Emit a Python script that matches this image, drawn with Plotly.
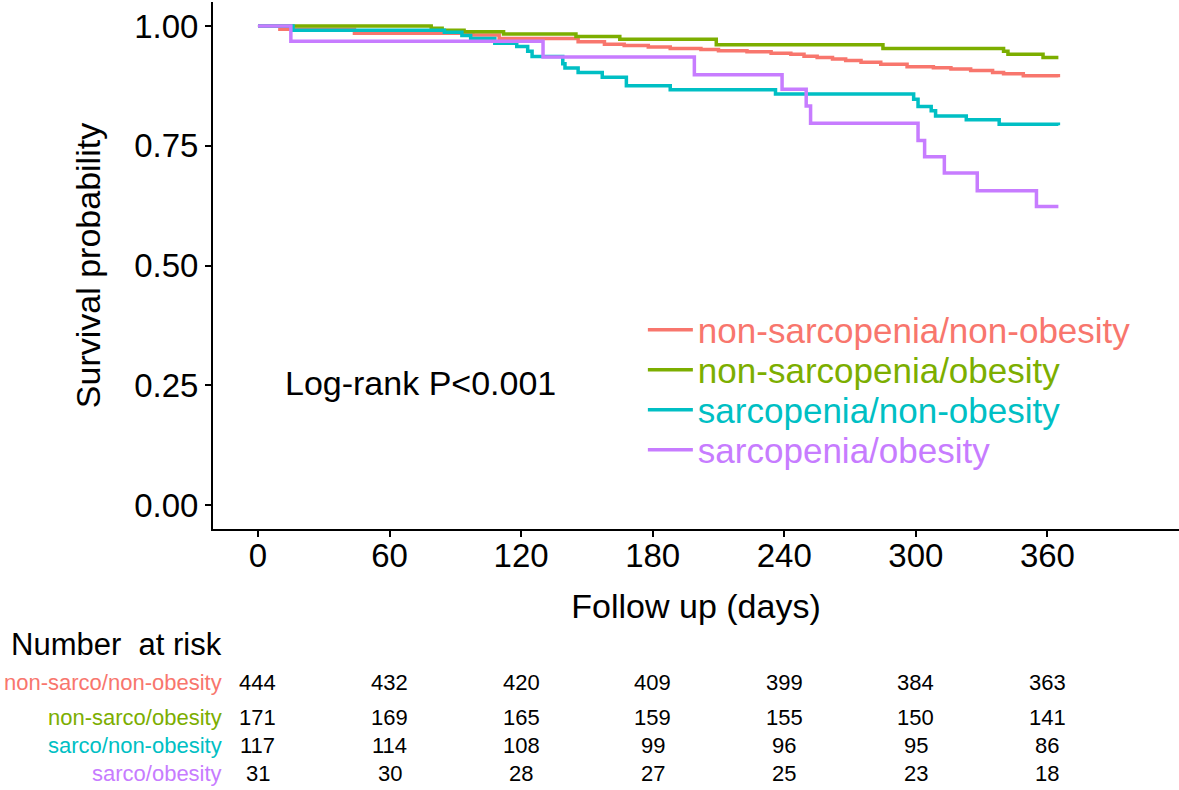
import plotly.graph_objects as go

# ---- data ----
groups = ["non-sarcopenia/non-obesity", "non-sarcopenia/obesity",
          "sarcopenia/non-obesity", "sarcopenia/obesity"]
short_names = ["non-sarco/non-obesity", "non-sarco/obesity",
               "sarco/non-obesity", "sarco/obesity"]
colors = ["#F8766D", "#7CAE00", "#00BFC4", "#C77CFF"]

t_nsno = [0, 10, 44, 98, 110, 146, 158, 167, 178, 188, 202, 210, 223, 234, 243,
          249, 255, 262, 268, 275, 284, 296, 308, 316, 325, 335, 340, 349, 365]
s_nsno = [1.0, 0.993, 0.985, 0.981, 0.974, 0.967, 0.962, 0.959, 0.956, 0.953,
          0.951, 0.948, 0.946, 0.943, 0.941, 0.937, 0.934, 0.931, 0.928, 0.924,
          0.920, 0.915, 0.913, 0.910, 0.907, 0.903, 0.900, 0.896, 0.893]

t_nso = [0, 79, 84, 94, 112, 145, 165, 209, 285, 340, 342, 358, 365]
s_nso = [1.0, 0.995, 0.991, 0.988, 0.983, 0.978, 0.972, 0.961, 0.953, 0.947,
         0.941, 0.934, 0.934]

t_sno = [0, 16, 85, 93, 97, 108, 118, 123, 125, 139, 140, 146, 157, 168, 188,
         236, 299, 301, 307, 309, 323, 338, 365]
s_sno = [1.0, 0.991, 0.987, 0.980, 0.974, 0.964, 0.957, 0.947, 0.936, 0.921,
         0.912, 0.903, 0.893, 0.875, 0.867, 0.858, 0.847, 0.832, 0.823, 0.812,
         0.804, 0.795, 0.793]

t_so = [0, 15, 130, 199, 239, 250, 252, 301, 304, 313, 328, 355, 365]
s_so = [1.0, 0.968, 0.935, 0.898, 0.868, 0.833, 0.797, 0.761, 0.727, 0.693,
        0.656, 0.623, 0.623]

times_list = [t_nsno, t_nso, t_sno, t_so]
surv_list = [s_nsno, s_nso, s_sno, s_so]

risk_times = [0, 60, 120, 180, 240, 300, 360]
risk_nsno = [444, 432, 420, 409, 399, 384, 363]
risk_nso = [171, 169, 165, 159, 155, 150, 141]
risk_sno = [117, 114, 108, 99, 96, 95, 86]
risk_so = [31, 30, 28, 27, 25, 23, 18]
risk_list = [risk_nsno, risk_nso, risk_sno, risk_so]

y_ticks = [0.0, 0.25, 0.5, 0.75, 1.0]

FONT = "Liberation Sans, Arial, sans-serif"

legend_ids = ["legend", "legend2", "legend3", "legend4"]
legend_y = [0.3776, 0.3017, 0.2258, 0.1499]

fig = go.Figure()
for name, col, t, s, lid in zip(groups, colors, times_list, surv_list, legend_ids):
    fig.add_trace(go.Scatter(
        x=t, y=s, mode="lines", line=dict(color=col, width=3.5, shape="hv"),
        name=f"<span style='color:{col}'>{name}</span>", legend=lid))

# Log-rank annotation
fig.add_annotation(x=74, y=0.255, xref="x", yref="y", text="Log-rank P<0.001",
                   showarrow=False, xanchor="center", yanchor="middle",
                   font=dict(size=34, color="black", family=FONT))

# Risk table
fig.add_annotation(x=0.0114, y=-0.2201, xref="paper", yref="paper",
                   text="Number  at risk", showarrow=False,
                   xanchor="right", yanchor="middle",
                   font=dict(size=31, color="black", family=FONT))
row_y = [-0.2922, -0.3586, -0.4099, -0.4630]
for lab, col, risk, ry in zip(short_names, colors, risk_list, row_y):
    fig.add_annotation(x=0.0114, y=ry, xref="paper", yref="paper", text=lab,
                       showarrow=False, xanchor="right", yanchor="middle",
                       font=dict(size=22, color=col, family=FONT))
    for tt, n in zip(risk_times, risk):
        fig.add_annotation(x=tt, y=ry, xref="x", yref="paper", text=str(n),
                           showarrow=False, xanchor="center", yanchor="middle",
                           font=dict(size=22, color="black", family=FONT))

layout_legends = {}
for lid, ly in zip(legend_ids, legend_y):
    layout_legends[lid] = dict(x=0.445, y=ly, xanchor="left", yanchor="middle",
                               bgcolor="rgba(0,0,0,0)",
                               font=dict(size=35, family=FONT), itemwidth=45)

fig.update_layout(
    width=1179, height=790,
    margin=dict(l=213, r=0, t=2, b=261),
    plot_bgcolor="white", paper_bgcolor="white",
    font=dict(family=FONT, color="black"),
    showlegend=True,
    **layout_legends,
)
fig.update_xaxes(range=[-20.5, 420], tickvals=risk_times,
                 ticktext=[str(v) for v in risk_times],
                 showline=True, linecolor="black", linewidth=2,
                 ticks="outside", ticklen=6, tickwidth=2, tickcolor="black",
                 showgrid=False, zeroline=False, ticklabelstandoff=-10,
                 tickfont=dict(size=33, color="black"),
                 title=dict(text="Follow up (days)", font=dict(size=34, color="black"),
                            standoff=22))
fig.update_yaxes(range=[-0.05, 1.05], tickvals=y_ticks,
                 ticktext=[f"{v:.2f}" for v in y_ticks],
                 showline=True, linecolor="black", linewidth=2,
                 ticks="outside", ticklen=6, tickwidth=2, tickcolor="black",
                 showgrid=False, zeroline=False, ticklabeloverflow="allow",
                 tickfont=dict(size=33, color="black"),
                 title=dict(text="Survival probability", font=dict(size=34, color="black"),
                            standoff=23))

fig.write_html("out.html", config={"displayModeBar": False},
               post_script="document.body.style.margin='0';document.body.style.padding='0';")
